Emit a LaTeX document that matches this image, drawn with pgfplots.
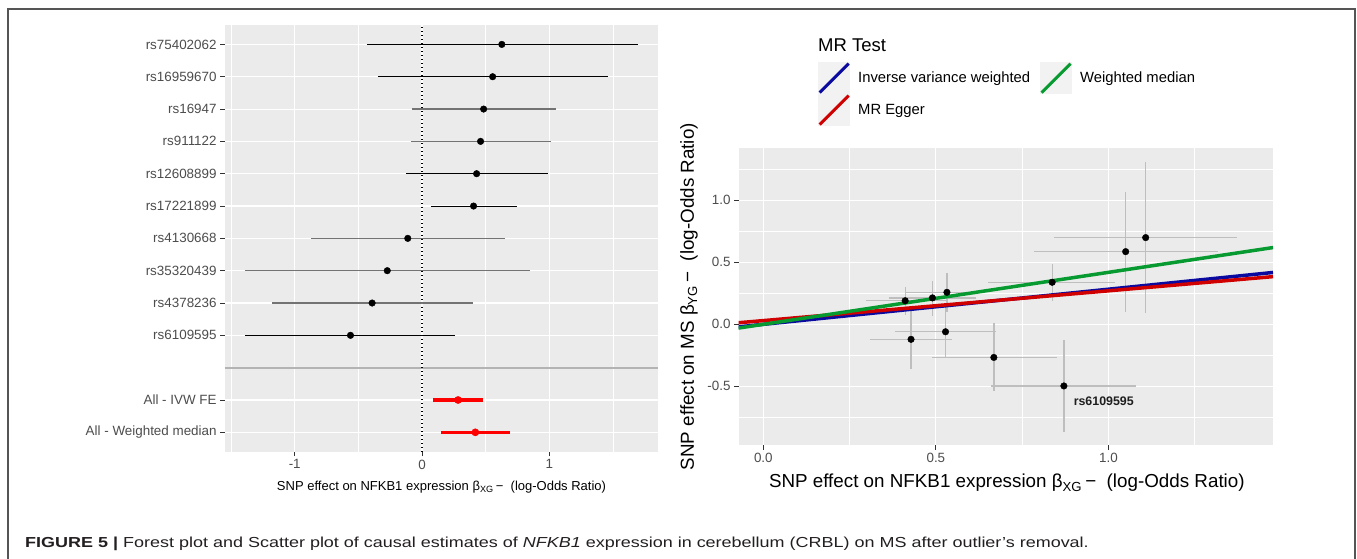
\documentclass[border=0pt]{standalone}
\usepackage{fontspec}
\setmainfont{Liberation Sans}
\newfontfamily\capfont{Liberation Sans}[FakeStretch=1.24]
\usepackage{pgfplots}
\pgfplotsset{compat=1.18}
\usepackage{pgfplotstable}

\definecolor{panelbg}{HTML}{EBEBEB}
\definecolor{tickgray}{HTML}{4D4D4D}
\definecolor{tickline}{HTML}{333333}
\definecolor{errgray}{HTML}{BEBEBE}
\definecolor{ivwblue}{HTML}{0A0AA0}
\definecolor{eggerred}{HTML}{D00000}
\definecolor{wmgreen}{HTML}{079A30}
\definecolor{keybg}{HTML}{F2F2F2}
\definecolor{framegray}{HTML}{555555}
\definecolor{sepgray}{HTML}{B3B3B3}
\definecolor{captext}{HTML}{231F20}

% forest plot: Wald ratios with 95% CI (pos = row from bottom)
\pgfplotstableread{
pos b lo hi
13 0.627 -0.436 1.700
12 0.555 -0.344 1.458
9  0.429 -0.129 0.991
8  0.405 0.068 0.746
4  -0.562 -1.390 0.262
}\forestdark
\pgfplotstableread{
pos b lo hi
11 0.484 -0.075 1.049
10 0.460 -0.085 1.012
7  -0.112 -0.869 0.654
6  -0.273 -1.390 0.852
5  -0.392 -1.179 0.399
}\forestlight
\pgfplotstableread{
pos b lo hi
2 0.283 0.089 0.477
1 0.419 0.153 0.688
}\forestall

% scatter: SNP-exposure vs SNP-outcome effects
\pgfplotstableread{
bx by bxlo bxhi bylo byhi
0.411 0.190 0.297 0.528 0.075 0.303
0.490 0.213 0.365 0.616 0.070 0.349
0.532 0.258 0.410 0.620 0.102 0.411
0.428 -0.121 0.309 0.546 -0.363 0.121
0.528 -0.060 0.382 0.674 -0.261 0.141
0.668 -0.267 0.490 0.852 -0.535 0.008
0.837 0.339 0.651 1.019 0.188 0.484
0.871 -0.497 0.661 1.080 -0.871 -0.126
1.050 0.586 0.783 1.319 0.102 1.070
1.108 0.699 0.842 1.374 0.089 1.306
}\scatterdata

\pgfplotsset{
  ggpanel/.style={
    scale only axis,
    axis background/.style={fill=panelbg},
    axis line style={draw=none},
    grid=both,
    major grid style={white, line width=1.1pt},
    minor grid style={white, line width=0.55pt},
    tick align=outside, tick pos=left,
    major tick length=4.5pt, minor tick length=0pt,
    major tick style={tickline, line width=0.9pt},
    ticklabel style={text=tickgray, font=\fontsize{13.4}{15}\selectfont},
  },
}

\begin{document}
\begin{tikzpicture}
\path[use as bounding box, fill=white] (0pt,0pt) rectangle (1357pt,-558pt);
\draw[framegray, line width=1.5pt] (8pt,-562pt) -- (8pt,-9pt) -- (1355pt,-9pt) -- (1355pt,-562pt);

% ---- forest plot ----
\begin{axis}[ggpanel,
  at={(224.6pt,-25pt)}, anchor=north west,
  width=433.4pt, height=426.7pt,
  xmin=-1.551, xmax=1.854, ymin=0.4, ymax=13.6,
  xtick={-1,0,1}, xticklabels={-1,0,1},
  minor xtick={-1.5,-0.5,0.5,1.5},
  ytick={1,2,4,5,6,7,8,9,10,11,12,13},
  yticklabels={All - Weighted median, All - IVW FE, rs6109595, rs4378236,
    rs35320439, rs4130668, rs17221899, rs12608899, rs911122, rs16947,
    rs16959670, rs75402062},
  xlabel={SNP effect on NFKB1 expression β\textsubscript{XG}\,−\ \ (log-Odds Ratio)},
  every axis x label/.style={at={(axis description cs:0.5005,-0.0834)},
    anchor=center, font=\fontsize{13}{15}\selectfont},
]
\addplot[sepgray, line width=1.8pt] coordinates {(-1.551,3) (1.854,3)};
\addplot[black, line width=1.2pt, dash pattern=on 1.2pt off 2.8pt]
  coordinates {(0,0.4) (0,13.6)};
\addplot[only marks, mark=*, mark size=3.3pt, black,
  error bars/.cd, x dir=both, x explicit, error mark=none,
  error bar style={black, line width=0.9pt}]
  table[x=b, y=pos, x error plus expr=\thisrow{hi}-\thisrow{b},
        x error minus expr=\thisrow{b}-\thisrow{lo}] {\forestdark};
\addplot[only marks, mark=*, mark size=3.3pt, black,
  error bars/.cd, x dir=both, x explicit, error mark=none,
  error bar style={black!55, line width=1.2pt}]
  table[x=b, y=pos, x error plus expr=\thisrow{hi}-\thisrow{b},
        x error minus expr=\thisrow{b}-\thisrow{lo}] {\forestlight};
\addplot[only marks, mark=*, mark size=3.6pt, red,
  error bars/.cd, x dir=both, x explicit, error mark=none,
  error bar style={red, line width=3.2pt}]
  table[x=b, y=pos, x error plus expr=\thisrow{hi}-\thisrow{b},
        x error minus expr=\thisrow{b}-\thisrow{lo}] {\forestall};
\end{axis}

% ---- scatter plot ----
\begin{axis}[ggpanel,
  at={(738.5pt,-148.3pt)}, anchor=north west,
  width=534.5pt, height=296.7pt,
  xmin=-0.072, xmax=1.477, ymin=-0.973, ymax=1.419,
  xtick={0,0.5,1}, xticklabels={0.0,0.5,1.0},
  minor xtick={0.25,0.75,1.25},
  ytick={-0.5,0,0.5,1}, yticklabels={-0.5,0.0,0.5,1.0},
  minor ytick={-0.75,-0.25,0.25,0.75,1.25},
  xlabel={SNP effect on NFKB1 expression β\textsubscript{XG}\,−\ \ (log-Odds Ratio)},
  ylabel={SNP effect on MS β\textsubscript{YG}\,−\ \ (log-Odds Ratio)},
  every axis x label/.style={at={(axis description cs:0.502,-0.128)},
    anchor=center, font=\fontsize{18.8}{21}\selectfont},
  every axis y label/.style={at={(axis description cs:-0.0926,0.5)},
    rotate=90, anchor=center, font=\fontsize{18.8}{21}\selectfont},
  legend image code/.code={
    \fill[keybg] (0pt,-14.5pt) rectangle (29pt,14.5pt);
    \draw[#1] (0pt,-14.5pt) -- (29pt,14.5pt);},
  legend style={at={(axis description cs:0.1487,1.291)}, anchor=north west,
    draw=none, fill=none, inner sep=0pt, column sep=10pt, row sep=0pt,
    font=\fontsize{14.8}{17}\selectfont, nodes={inner sep=0pt},
    /tikz/every odd column/.append style={column sep=8pt}},
  legend columns=2, legend cell align=left,
]
\addplot[only marks, mark=*, mark size=3.3pt, black, forget plot,
  error bars/.cd, x dir=both, y dir=both, x explicit, y explicit,
  error mark=none, error bar style={errgray, line width=1.3pt}]
  table[x=bx, y=by,
        x error plus expr=\thisrow{bxhi}-\thisrow{bx},
        x error minus expr=\thisrow{bx}-\thisrow{bxlo},
        y error plus expr=\thisrow{byhi}-\thisrow{by},
        y error minus expr=\thisrow{by}-\thisrow{bylo}] {\scatterdata};
\addplot[ivwblue, line width=3.5pt, forget plot] coordinates {(-0.072,-0.0204) (1.477,0.418)};
\addplot[eggerred, line width=3.5pt, forget plot] coordinates {(-0.072,0.0127) (1.477,0.3845)};
\addplot[wmgreen, line width=3.5pt, forget plot] coordinates {(-0.072,-0.0302) (1.477,0.6189)};
\addlegendimage{ivwblue, line width=3pt}
\addlegendentry{Inverse variance weighted}
\addlegendimage{wmgreen, line width=3pt}
\addlegendentry{Weighted median}
\addlegendimage{eggerred, line width=3pt}
\addlegendentry{MR Egger}
\node[anchor=west, inner sep=0pt, font=\bfseries\fontsize{12.4}{14}\selectfont,
  text=black!88] at (axis cs:0.899,-0.619) {rs6109595};
\end{axis}

\node[anchor=west, inner sep=0pt, font=\fontsize{18.5}{20}\selectfont]
  at (818pt,-45pt) {MR Test};
\node[anchor=base west, inner sep=0pt, font=\capfont\fontsize{14.5}{16}\selectfont, text=captext]
  at (25pt,-547.3pt) {\textbf{FIGURE 5 |} Forest plot and Scatter plot of causal
  estimates of \textit{NFKB1} expression in cerebellum (CRBL) on MS after outlier’s removal.};
\end{tikzpicture}
\end{document}
